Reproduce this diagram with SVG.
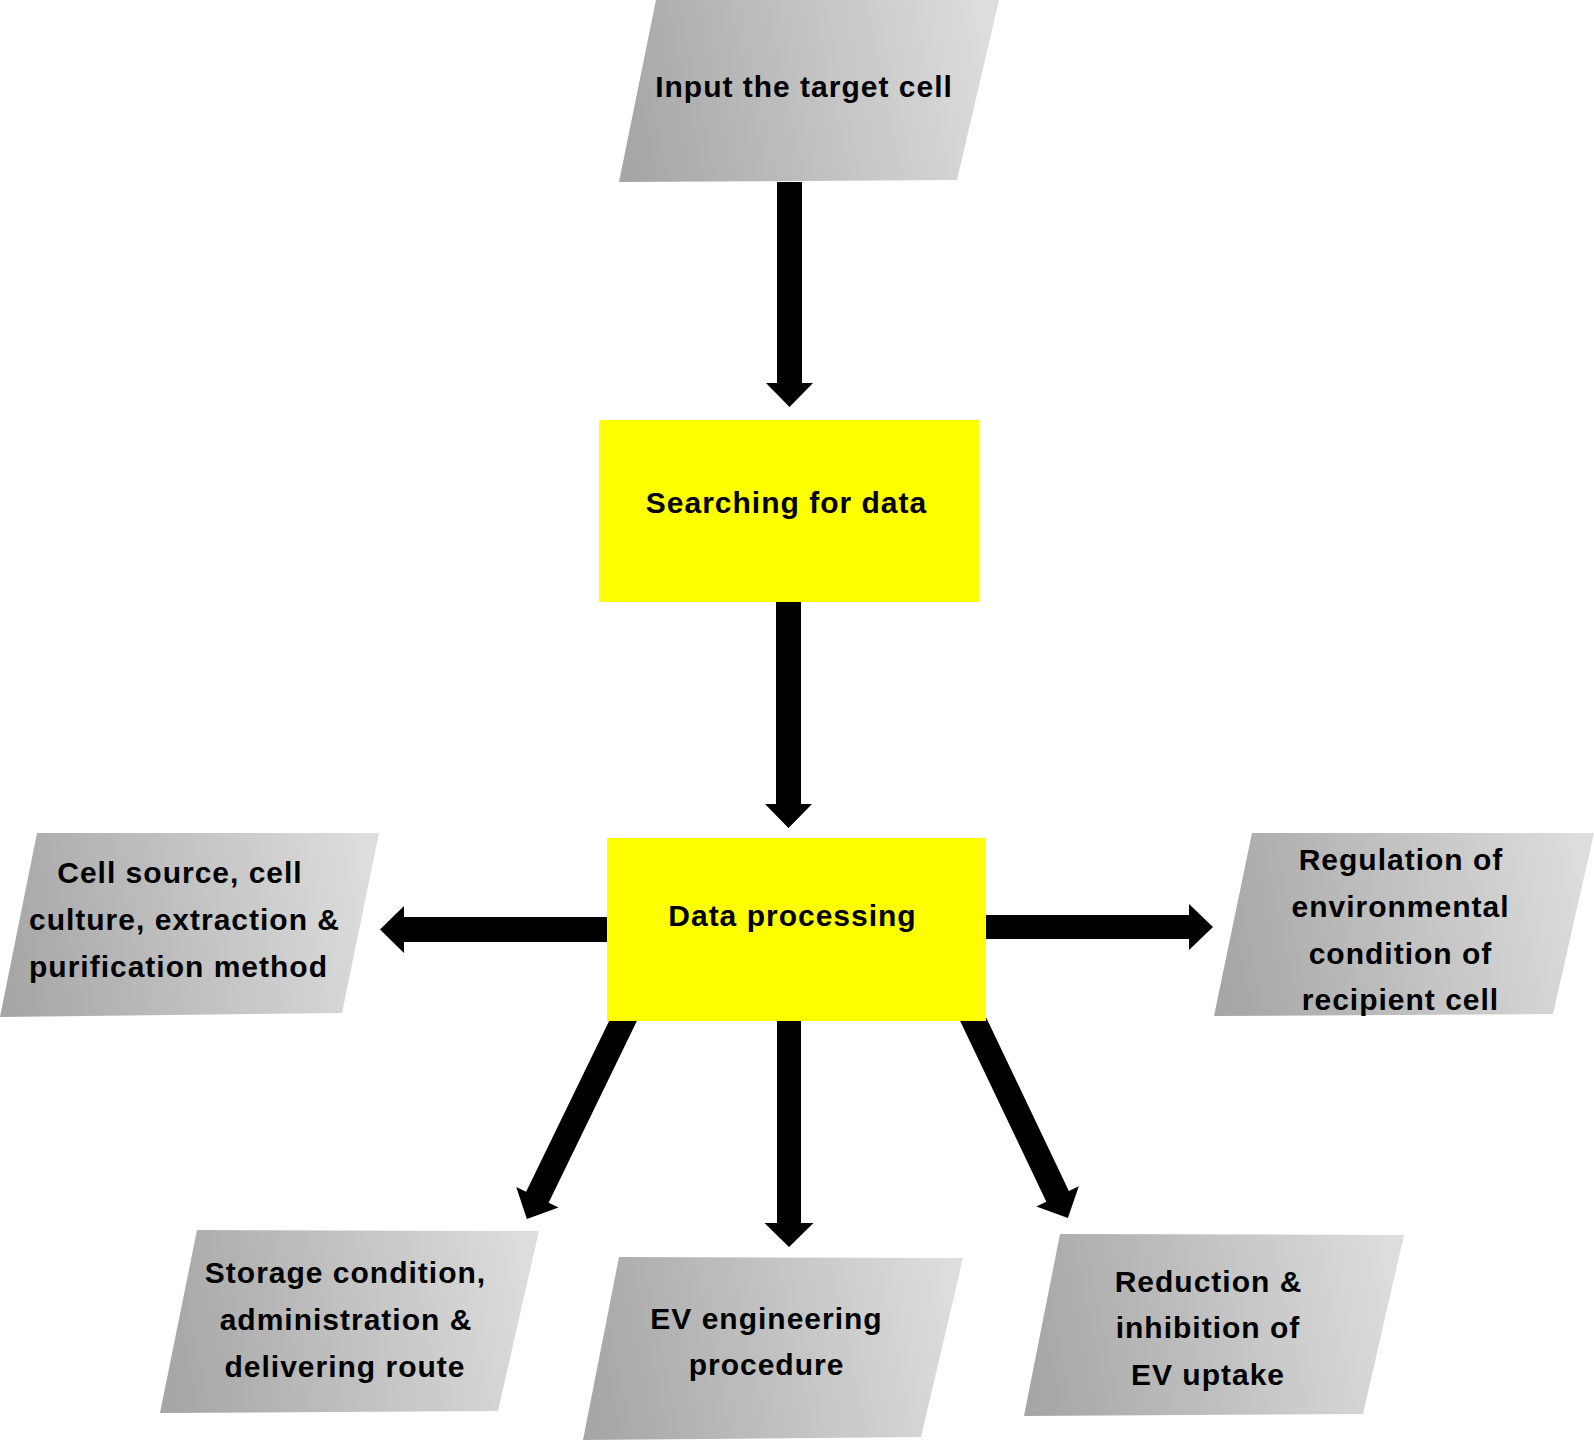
<svg xmlns="http://www.w3.org/2000/svg" width="1594" height="1440" viewBox="0 0 1594 1440">
<defs>
<linearGradient id="g" x1="0" y1="0.55" x2="1" y2="0.45">
<stop offset="0" stop-color="#a6a6a6"/>
<stop offset="1" stop-color="#dddddd"/>
</linearGradient>
<style>
.para{fill:url(#g);}
.box{fill:#ffff00;}
.t{font-family:"Liberation Sans",Arial,sans-serif;font-weight:bold;font-size:30px;letter-spacing:1px;fill:#000;text-anchor:middle;}
.arr{fill:#000;}
</style>
</defs>
<rect width="1594" height="1440" fill="#fff"/>
<g id="connectors">
<path class="arr" transform="translate(789.5,182) rotate(90)" d="M0,-12.5 H201 V-23.5 L225,0 L201,23.5 V12.5 H0 Z"/>
<path class="arr" transform="translate(788.5,602) rotate(90)" d="M0,-12.5 H202 V-23.5 L226,0 L202,23.5 V12.5 H0 Z"/>
<path class="arr" transform="translate(607,929.5) rotate(180)" d="M0,-12.5 H203 V-23.5 L227,0 L203,23.5 V12.5 H0 Z"/>
<path class="arr" transform="translate(986,927) rotate(0)" d="M0,-12 H203 V-23 L227,0 L203,23 V12 H0 Z"/>
<path class="arr" transform="translate(789,1021) rotate(90)" d="M0,-12 H202 V-24.5 L226,0 L202,24.5 V12 H0 Z"/>
<path class="arr" transform="translate(632.6,1001.2) rotate(115.9)" d="M0,-12.5 H218 V-23.5 L242,0 L218,23.5 V12.5 H0 Z"/>
<path class="arr" transform="translate(964.6,1001.3) rotate(64.5)" d="M0,-12.5 H216 V-23.5 L240,0 L216,23.5 V12.5 H0 Z"/>
</g>
<g id="input">
<polygon class="para" points="656,0 999,0 957,180 619,182"/>
<text class="t" x="804" y="97">Input the target cell</text>
</g>
<g id="searching">
<rect class="box" x="599" y="420" width="380" height="182"/>
<text class="t" x="786.5" y="513">Searching for data</text>
</g>
<g id="processing">
<rect class="box" x="607" y="838" width="379" height="183"/>
<text class="t" x="792.5" y="926">Data processing</text>
</g>
<g id="cellsource">
<polygon class="para" points="37,833 379,833 342,1013 0,1017"/>
<text class="t" x="180" y="883">Cell source, cell</text>
<text class="t" x="184.5" y="930">culture, extraction &amp;</text>
<text class="t" x="178.5" y="977">purification method</text>
</g>
<g id="regulation">
<polygon class="para" points="1252,833 1594,833 1553,1014 1214,1016"/>
<text class="t" x="1401" y="870">Regulation of</text>
<text class="t" x="1400.5" y="917">environmental</text>
<text class="t" x="1400.5" y="964">condition of</text>
<text class="t" x="1400.5" y="1010">recipient cell</text>
</g>
<g id="storage">
<polygon class="para" points="197,1230 539,1231 498,1411 160,1413"/>
<text class="t" x="345.5" y="1283">Storage condition,</text>
<text class="t" x="346" y="1330">administration &amp;</text>
<text class="t" x="345" y="1377">delivering route</text>
</g>
<g id="engineering">
<polygon class="para" points="619,1257 963,1258 921,1437 583,1440"/>
<text class="t" x="766.5" y="1329">EV engineering</text>
<text class="t" x="766.5" y="1375">procedure</text>
</g>
<g id="reduction">
<polygon class="para" points="1060,1234 1404,1235 1363,1414 1024,1416"/>
<text class="t" x="1208.5" y="1292">Reduction &amp;</text>
<text class="t" x="1208" y="1338">inhibition of</text>
<text class="t" x="1208" y="1385">EV uptake</text>
</g>
</svg>
